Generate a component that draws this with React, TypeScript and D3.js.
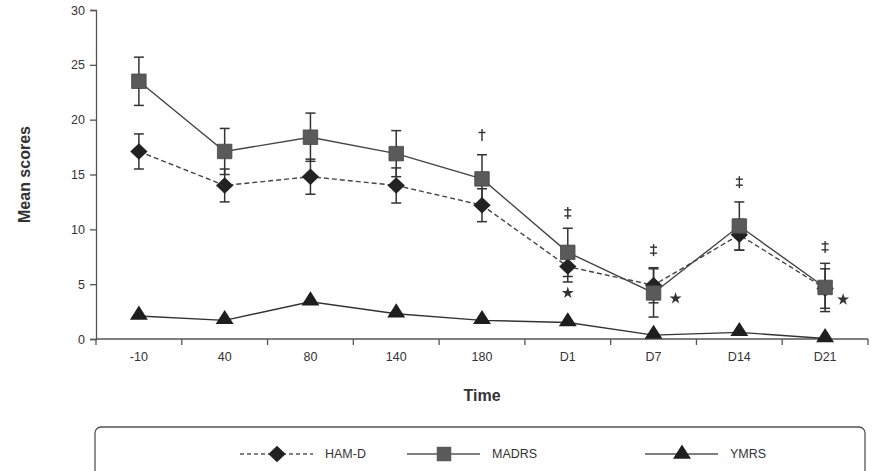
import React, { useEffect, useRef } from "react";
import * as d3 from "d3";

const categories = ["-10", "40", "80", "140", "180", "D1", "D7", "D14", "D21"];
const hamd = [17.1, 14.0, 14.8, 14.0, 12.2, 6.6, 4.9, 9.5, 4.6];
const hamdErr = [1.6, 1.5, 1.6, 1.6, 1.5, 1.4, 1.6, 1.4, 1.8];
const madrs = [23.5, 17.1, 18.4, 16.9, 14.6, 7.9, 4.2, 10.3, 4.7];
const madrsErr = [2.2, 2.1, 2.2, 2.1, 2.2, 2.2, 2.2, 2.2, 2.2];
const ymrs = [2.1, 1.7, 3.4, 2.3, 1.7, 1.5, 0.35, 0.6, 0.05];
const yTicks = [0, 5, 10, 15, 20, 25, 30];

// significance marks: category, score level (centre), bars = 1 for † and 2 for ‡
const daggers = [
  { cat: "180", y: 18.6, bars: 1 },
  { cat: "D1", y: 11.5, bars: 2 },
  { cat: "D7", y: 8.1, bars: 2 },
  { cat: "D14", y: 14.3, bars: 2 },
  { cat: "D21", y: 8.4, bars: 2 },
];
const stars = [
  { cat: "D1", y: 4.2, dx: 0 },
  { cat: "D7", y: 3.7, dx: 22 },
  { cat: "D21", y: 3.6, dx: 18 },
];

const FONT = "'Liberation Sans', Arial, sans-serif";

const App = () => {
  const ref = useRef<SVGSVGElement>(null);

  useEffect(() => {
    const svg = d3.select(ref.current);
    svg.selectAll("*").remove();

    const left = 96;
    const right = 868;
    const top = 10;
    const bottom = 339;

    const x = d3.scaleBand().domain(categories).range([left, right]);
    const y = d3.scaleLinear().domain([0, 30]).range([bottom, top]);
    const cx = (c: string) => (x(c) as number) + x.bandwidth() / 2;

    const axisColor = "#555";

    // y axis
    const yAxis = svg
      .append("g")
      .attr("transform", `translate(${left},0)`)
      .call(d3.axisLeft(y).tickValues(yTicks).tickSize(6).tickPadding(5));
    yAxis.select(".domain").attr("stroke", axisColor).attr("stroke-width", 1.3);
    yAxis.selectAll(".tick line").attr("stroke", axisColor).attr("stroke-width", 1.3);
    yAxis
      .selectAll(".tick text")
      .attr("fill", "#333")
      .style("font-family", FONT)
      .style("font-size", "12.5px");

    // x axis: ticks at band boundaries
    const g = svg.append("g");
    g.append("line")
      .attr("x1", left)
      .attr("x2", right)
      .attr("y1", bottom)
      .attr("y2", bottom)
      .attr("stroke", axisColor)
      .attr("stroke-width", 1.3);
    const bounds = categories.map((c) => x(c) as number).concat([right]);
    g.selectAll("line.xt")
      .data(bounds)
      .join("line")
      .attr("class", "xt")
      .attr("x1", (d) => d)
      .attr("x2", (d) => d)
      .attr("y1", bottom)
      .attr("y2", bottom + 6)
      .attr("stroke", axisColor)
      .attr("stroke-width", 1.3);
    g.selectAll("text.xl")
      .data(categories)
      .join("text")
      .attr("class", "xl")
      .attr("x", (d) => cx(d))
      .attr("y", bottom + 22)
      .attr("text-anchor", "middle")
      .attr("fill", "#333")
      .style("font-family", FONT)
      .style("font-size", "12.5px")
      .text((d) => d);

    // axis titles
    svg
      .append("text")
      .attr("x", (left + right) / 2)
      .attr("y", 401)
      .attr("text-anchor", "middle")
      .attr("fill", "#333")
      .style("font-family", FONT)
      .style("font-size", "16px")
      .style("font-weight", "bold")
      .text("Time");
    svg
      .append("text")
      .attr("transform", `translate(30,${(top + bottom) / 2}) rotate(-90)`)
      .attr("text-anchor", "middle")
      .attr("fill", "#333")
      .style("font-family", FONT)
      .style("font-size", "16px")
      .style("font-weight", "bold")
      .text("Mean scores");

    const line = d3
      .line<number>()
      .x((_, i) => cx(categories[i]))
      .y((d) => y(d));

    const errorBars = (vals: number[], errs: number[]) => {
      const eg = svg.append("g").attr("stroke", "#333").attr("stroke-width", 1.5);
      vals.forEach((v, i) => {
        const c = cx(categories[i]);
        const y1 = y(v + errs[i]);
        const y2 = y(v - errs[i]);
        eg.append("line").attr("x1", c).attr("x2", c).attr("y1", y1).attr("y2", y2);
        eg.append("line").attr("x1", c - 5).attr("x2", c + 5).attr("y1", y1).attr("y2", y1);
        eg.append("line").attr("x1", c - 5).attr("x2", c + 5).attr("y1", y2).attr("y2", y2);
      });
    };

    errorBars(hamd, hamdErr);
    errorBars(madrs, madrsErr);

    // lines
    svg
      .append("path")
      .attr("d", line(hamd))
      .attr("fill", "none")
      .attr("stroke", "#444")
      .attr("stroke-width", 1.4)
      .attr("stroke-dasharray", "5,3");
    svg
      .append("path")
      .attr("d", line(madrs))
      .attr("fill", "none")
      .attr("stroke", "#444")
      .attr("stroke-width", 1.4);
    svg
      .append("path")
      .attr("d", line(ymrs))
      .attr("fill", "none")
      .attr("stroke", "#333")
      .attr("stroke-width", 1.4);

    // diamond = rotated square
    const diamond = d3.symbol(d3.symbolSquare, 150);
    const square = d3.symbol(d3.symbolSquare, 210);
    const triangle = d3.symbol(d3.symbolTriangle, 115);
    const star = d3.symbol(d3.symbolStar, 45);

    svg
      .append("g")
      .selectAll("path")
      .data(hamd)
      .join("path")
      .attr("d", diamond())
      .attr("transform", (d, i) => `translate(${cx(categories[i])},${y(d)}) scale(1,0.95) rotate(45)`)
      .attr("fill", "#222");
    svg
      .append("g")
      .selectAll("path")
      .data(madrs)
      .join("path")
      .attr("d", square())
      .attr("transform", (d, i) => `translate(${cx(categories[i])},${y(d)})`)
      .attr("fill", "#5a5a5a")
      .attr("stroke", "#444")
      .attr("stroke-width", 0.8);
    svg
      .append("g")
      .selectAll("path")
      .data(ymrs)
      .join("path")
      .attr("d", triangle())
      .attr("transform", (d, i) => `translate(${cx(categories[i])},${y(d) - 1}) scale(1.1,1)`)
      .attr("fill", "#1e1e1e");

    // dagger marks drawn as strokes
    const dg = svg.append("g").attr("stroke", "#333").attr("stroke-width", 1.4);
    daggers.forEach((d) => {
      const c = cx(d.cat);
      const yc = y(d.y);
      dg.append("line").attr("x1", c).attr("x2", c).attr("y1", yc - 6).attr("y2", yc + 6);
      const bars = d.bars === 1 ? [-2.5] : [-3, 3];
      bars.forEach((b) => {
        dg.append("line")
          .attr("x1", c - 3.5)
          .attr("x2", c + 3.5)
          .attr("y1", yc + b)
          .attr("y2", yc + b);
      });
    });
    svg
      .append("g")
      .selectAll("path")
      .data(stars)
      .join("path")
      .attr("d", star())
      .attr("transform", (d) => `translate(${cx(d.cat) + d.dx},${y(d.y)})`)
      .attr("fill", "#333");

    // legend
    const lg = svg.append("g");
    lg.append("rect")
      .attr("x", 95)
      .attr("y", 427)
      .attr("width", 770)
      .attr("height", 60)
      .attr("rx", 6)
      .attr("fill", "white")
      .attr("stroke", "#555")
      .attr("stroke-width", 1.3);
    const legendItems = [
      { name: "HAM-D", x0: 240, dash: "4,3", sym: diamond, fill: "#222", t: "scale(1,0.95) rotate(45)" },
      { name: "MADRS", x0: 407, dash: null, sym: square, fill: "#5a5a5a", t: "" },
      { name: "YMRS", x0: 645, dash: null, sym: triangle, fill: "#1e1e1e", t: "scale(1.1,1)" },
    ];
    const ly = 454;
    legendItems.forEach((it) => {
      lg.append("line")
        .attr("x1", it.x0)
        .attr("x2", it.x0 + 73)
        .attr("y1", ly)
        .attr("y2", ly)
        .attr("stroke", "#555")
        .attr("stroke-width", 1.4)
        .attr("stroke-dasharray", it.dash);
      lg.append("path")
        .attr("d", it.sym())
        .attr("transform", `translate(${it.x0 + 37},${ly}) ${it.t}`)
        .attr("fill", it.fill);
      lg.append("text")
        .attr("x", it.x0 + 85)
        .attr("y", ly + 4)
        .attr("fill", "#333")
        .style("font-family", FONT)
        .style("font-size", "12.5px")
        .text(it.name);
    });
  }, []);

  return (
    <svg
      ref={ref}
      width={873}
      height={471}
      style={{ position: "absolute", left: 0, top: 0, background: "white" }}
    />
  );
};

export default App;
